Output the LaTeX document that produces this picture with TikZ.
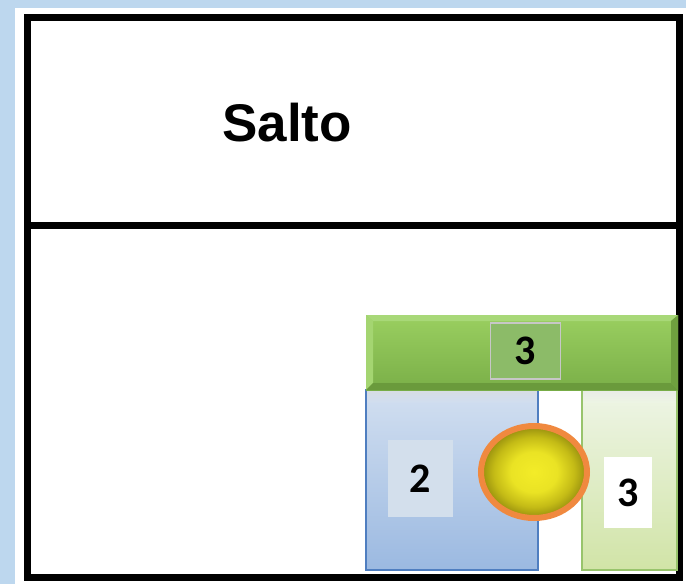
\documentclass[tikz,border=0pt]{standalone}
\usepackage{fontspec}
\setmainfont{Liberation Sans}
\newfontfamily\digitfont{Carlito}
\usetikzlibrary{shapes.geometric}
\definecolor{bgblue}{HTML}{BDD7EE}
\definecolor{gtop}{HTML}{9ACF60}
\definecolor{gbot}{HTML}{7AAF48}
\definecolor{glight}{HTML}{A8D878}
\definecolor{gdark}{HTML}{6A9A3C}
\definecolor{gbox}{HTML}{8CBB68}
\definecolor{btop}{HTML}{D2DFF0}
\definecolor{bbot}{HTML}{9BB9E1}
\definecolor{bborder}{HTML}{4F7EC0}
\definecolor{bbox}{HTML}{D3DFEC}
\definecolor{ltop}{HTML}{EEF5E6}
\definecolor{lbot}{HTML}{D1E4A7}
\definecolor{lborder}{HTML}{98C46C}
\definecolor{orng}{HTML}{F0893F}
\definecolor{yin}{HTML}{F3EC28}
\definecolor{ymid}{HTML}{EAE324}
\definecolor{yedge}{HTML}{C4BB16}
\definecolor{yout}{HTML}{958D0E}
\pgfdeclareradialshading{yball}{\pgfpoint{0bp}{0bp}}{%
  color(0bp)=(yin);
  color(11bp)=(ymid);
  color(19bp)=(yedge);
  color(25bp)=(yout);
  color(50bp)=(yout)}
\tikzset{
  frameline/.style={draw=black,line width=7pt},
  numtext/.style={font=\digitfont\bfseries\fontsize{42}{46}\selectfont,text=black,inner sep=0pt},
}
\begin{document}
\begin{tikzpicture}[x=1pt,y=-1pt]
\useasboundingbox (0,0) rectangle (686,584);
\fill[bgblue] (0,0) rectangle (686,584);
\fill[white] (15,8) rectangle (686,584);
% outer frame and divider
\draw[frameline] (27.5,17.5) rectangle (679.5,577);
\coordinate (dl) at (27.5,225.5);
\coordinate (dr) at (679.5,225.5);
\draw[frameline] (dl) -- (dr);
\node[font=\bfseries\fontsize{53}{58}\selectfont,anchor=base] (salto) at (287,141) {Salto};
% blue rect
\shade[top color=btop,bottom color=bbot] (366,390) rectangle (538,570);
\shade[top color=black!14,bottom color=btop,opacity=0.6] (366,390) rectangle (538,402);
\draw[bborder,line width=1.5pt] (366,390) rectangle (538,570);
\node[fill=bbox,minimum width=65pt,minimum height=77pt,inner sep=0pt] (box2) at (420.5,478.5) {};
\node[numtext] at (box2.center) {2};
% right light green rect
\shade[top color=ltop,bottom color=lbot] (582,390) rectangle (677,570);
\shade[top color=black!10,bottom color=ltop,opacity=0.6] (582,390) rectangle (677,402);
\draw[lborder,line width=1.5pt] (582,390) rectangle (677,570);
\node[fill=white,minimum width=48pt,minimum height=71pt,inner sep=0pt] (box3r) at (628,492.5) {};
\node[numtext] at (box3r.center) {3};
% green bar with bevel
\shade[top color=gtop,bottom color=gbot] (366,315) rectangle (678,390);
\fill[glight] (366,315) -- (678,315) -- (671,321) -- (373,321) -- cycle;
\fill[glight!70!gtop] (366,315) -- (373,321) -- (373,383) -- (366,390) -- cycle;
\fill[gdark] (366,390) -- (678,390) -- (671,383) -- (373,383) -- cycle;
\fill[gdark!70!gbot] (678,315) -- (678,390) -- (671,383) -- (671,321) -- cycle;
\node[fill=gbox,draw=black!22,line width=1.5pt,minimum width=70pt,minimum height=56pt,inner sep=0pt] (box3t) at (525.5,351) {};
\node[numtext] at (box3t.center) {3};
% yellow ball
\node[ellipse,draw=orng,line width=6pt,shading=yball,minimum width=106pt,minimum height=92pt,inner sep=0pt] (ball) at (534,472) {};
\end{tikzpicture}
\end{document}
